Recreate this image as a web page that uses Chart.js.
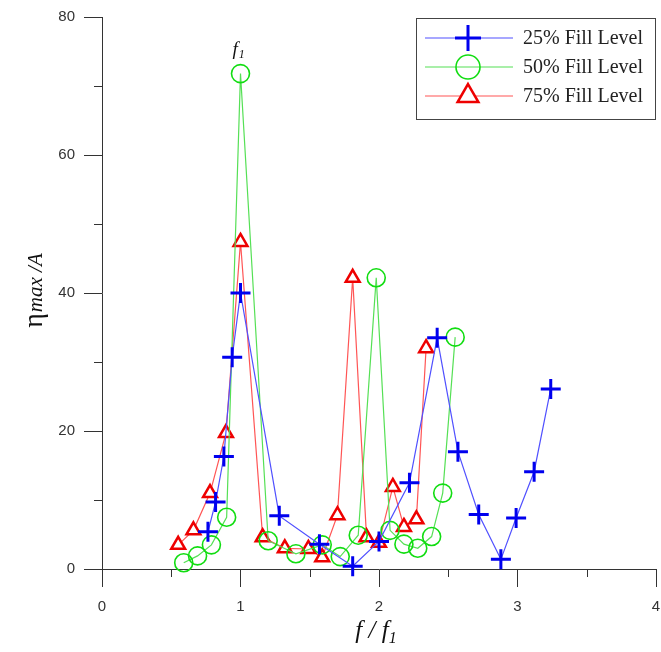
<!DOCTYPE html>
<html>
<head>
<meta charset="utf-8">
<script src="https://cdn.jsdelivr.net/npm/chart.js@4/dist/chart.umd.min.js"></script>
<style>
  html, body { margin: 0; padding: 0; background: #fff; }
  #wrap { width: 661px; height: 652px; }
</style>
</head>
<body>
<div id="wrap"><canvas id="resp"></canvas></div>
<script>
// frequency ratio f/f1 and peak elevation per fill level
const fill25X = [0.765, 0.82, 0.88, 0.94, 1.0, 1.28, 1.57, 1.81, 2.0, 2.22, 2.42, 2.57, 2.72, 2.88, 2.99, 3.12, 3.24];
const fill25Y = [5.4, 9.7, 16.3, 30.7, 40.0, 7.7, 3.6, 0.4, 4.0, 12.5, 33.5, 17.0, 7.9, 1.4, 7.4, 14.1, 26.1];

const fill50X = [0.59, 0.69, 0.79, 0.90, 1.0, 1.20, 1.40, 1.59, 1.72, 1.85, 1.98, 2.08, 2.18, 2.28, 2.38, 2.46, 2.55];
const fill50Y = [0.9, 1.9, 3.5, 7.5, 71.8, 4.1, 2.2, 3.5, 1.8, 4.9, 42.2, 5.6, 3.6, 3.0, 4.7, 11.0, 33.6];

const fill75X = [0.55, 0.66, 0.78, 0.895, 1.0, 1.16, 1.32, 1.49, 1.59, 1.70, 1.81, 1.91, 2.0, 2.10, 2.18, 2.27, 2.34];
const fill75Y = [3.5, 5.6, 11.0, 19.7, 47.4, 4.6, 3.0, 2.9, 1.7, 7.8, 42.2, 4.6, 3.8, 11.9, 6.1, 7.2, 32.0];

const seriesLabels = ['25% Fill Level', '50% Fill Level', '75% Fill Level'];
const xTicks = [0, 1, 2, 3, 4];
const yTicks = [0, 20, 40, 60, 80];

const toPoints = (xs, ys) => xs.map((x, i) => ({ x: x, y: ys[i] }));

const AXIS = '#333';
const SERIF = "'Liberation Serif', 'Times New Roman', serif";

const styles = [
  { line: '#5050ff', mark: '#0000ee', pointStyle: 'cross', radius: 10, width: 3, fill: 'rgba(0,0,0,0)' },
  { line: '#55e055', mark: '#11dd11', pointStyle: 'circle', radius: 9, width: 1.6, fill: 'rgba(0,0,0,0)' },
  { line: '#ff5555', mark: '#ee0000', pointStyle: 'triangle', radius: 8, width: 2.5, fill: '#ffffff' }
];

function makeSet(label, pts, s, order) {
  return {
    label: label,
    data: pts,
    showLine: true,
    borderColor: s.line,
    borderWidth: 1.2,
    pointStyle: s.pointStyle,
    pointRadius: s.radius,
    pointBorderWidth: s.width,
    pointBorderColor: s.mark,
    pointBackgroundColor: s.fill,
    clip: false,
    order: order
  };
}

// minor ticks, axis titles, f1 marker and the boxed legend
const extras = {
  id: 'extras',
  afterDraw(chart) {
    const ctx = chart.ctx;
    const xs = chart.scales.x, ys = chart.scales.y;
    const area = chart.chartArea;
    ctx.save();
    ctx.strokeStyle = AXIS;
    ctx.lineWidth = 1;
    ctx.beginPath();
    [0.5, 1.5, 2.5, 3.5].forEach(v => {
      const px = Math.round(xs.getPixelForValue(v)) + 0.5;
      ctx.moveTo(px, area.bottom);
      ctx.lineTo(px, area.bottom + 8);
    });
    [10, 30, 50, 70].forEach(v => {
      const py = Math.round(ys.getPixelForValue(v)) + 0.5;
      ctx.moveTo(area.left, py);
      ctx.lineTo(area.left - 8, py);
    });
    ctx.stroke();

    ctx.fillStyle = '#111';
    ctx.textBaseline = 'alphabetic';

    // x title: f / f1
    ctx.font = 'italic 25px ' + SERIF;
    const xt1 = 'f / f';
    const w1 = ctx.measureText(xt1).width;
    ctx.font = 'italic 16px ' + SERIF;
    const w2 = ctx.measureText('1').width;
    let tx = 376 - (w1 + w2) / 2;
    ctx.font = 'italic 25px ' + SERIF;
    ctx.textAlign = 'left';
    ctx.fillText(xt1, tx, 638);
    ctx.font = 'italic 16px ' + SERIF;
    ctx.fillText('1', tx + w1, 643);

    // y title: eta max / A
    ctx.save();
    ctx.translate(42, 291);
    ctx.rotate(-Math.PI / 2);
    ctx.font = '28px ' + SERIF;
    const we = ctx.measureText('η').width;
    ctx.font = 'italic 21px ' + SERIF;
    const wm = ctx.measureText('max /A').width;
    let ox = -(we + wm) / 2;
    ctx.font = '28px ' + SERIF;
    ctx.fillText('η', ox, 0);
    ctx.font = 'italic 21px ' + SERIF;
    ctx.fillText('max /A', ox + we + 1, 0);
    ctx.restore();

    // f1 label above the first peak
    const fx = xs.getPixelForValue(1);
    ctx.font = 'italic 19px ' + SERIF;
    ctx.textAlign = 'left';
    const wf = ctx.measureText('f').width;
    ctx.fillText('f', fx - 8, 55);
    ctx.font = 'italic 12px ' + SERIF;
    ctx.fillText('1', fx - 8 + wf + 1, 58);

    // legend box
    const lx = 416.5, ly = 18.5, lw = 239, lh = 101;
    ctx.fillStyle = '#fff';
    ctx.fillRect(lx, ly, lw, lh);
    ctx.strokeStyle = '#444';
    ctx.lineWidth = 1;
    ctx.strokeRect(lx, ly, lw, lh);
    const rows = [38, 67, 96];
    const legendRadius = [13, 12, 12];
    styles.forEach((s, i) => {
      const y = rows[i];
      ctx.strokeStyle = s.line;
      ctx.lineWidth = 1.2;
      ctx.beginPath();
      ctx.moveTo(425, y);
      ctx.lineTo(513, y);
      ctx.stroke();
      ctx.strokeStyle = s.mark;
      ctx.fillStyle = s.fill;
      ctx.lineWidth = s.width;
      Chart.helpers.drawPoint(ctx, {
        pointStyle: s.pointStyle, radius: legendRadius[i], rotation: 0, borderWidth: s.width
      }, 468, y);
      ctx.fillStyle = '#222';
      ctx.font = '20px ' + SERIF;
      ctx.textAlign = 'left';
      ctx.textBaseline = 'middle';
      ctx.fillText(seriesLabels[i], 523, y + 1);
    });
    ctx.restore();
  }
};

new Chart(document.getElementById('resp'), {
  type: 'scatter',
  data: {
    datasets: [
      makeSet(seriesLabels[0], toPoints(fill25X, fill25Y), styles[0], 1),
      makeSet(seriesLabels[1], toPoints(fill50X, fill50Y), styles[1], 2),
      makeSet(seriesLabels[2], toPoints(fill75X, fill75Y), styles[2], 3)
    ]
  },
  options: {
    responsive: true,
    maintainAspectRatio: false,
    animation: false,
    layout: { autoPadding: false, padding: { top: 17, right: 5, left: 0, bottom: 0 } },
    plugins: {
      legend: { display: false },
      tooltip: { enabled: false }
    },
    scales: {
      x: {
        type: 'linear',
        min: 0,
        max: 4,
        afterFit(scale) {
          scale.height = 83;
          scale.paddingLeft = 0;
          scale.paddingRight = 0;
        },
        afterBuildTicks(scale) { scale.ticks = xTicks.map(v => ({ value: v })); },
        border: { color: AXIS, width: 1 },
        grid: { drawOnChartArea: false, drawTicks: true, tickLength: 18, tickColor: AXIS },
        ticks: {
          color: '#333',
          padding: 11,
          maxRotation: 0,
          font: { family: "'Liberation Sans', Arial, sans-serif", size: 15 }
        }
      },
      y: {
        type: 'linear',
        min: 0,
        max: 80,
        afterFit(scale) {
          scale.width = 102;
          scale.paddingTop = 0;
          scale.paddingBottom = 0;
        },
        afterBuildTicks(scale) { scale.ticks = yTicks.map(v => ({ value: v })); },
        border: { color: AXIS, width: 1 },
        grid: { drawOnChartArea: false, drawTicks: true, tickLength: 18, tickColor: AXIS },
        ticks: {
          color: '#333',
          padding: 9,
          font: { family: "'Liberation Sans', Arial, sans-serif", size: 15 }
        }
      }
    }
  },
  plugins: [extras]
});
</script>
</body>
</html>
